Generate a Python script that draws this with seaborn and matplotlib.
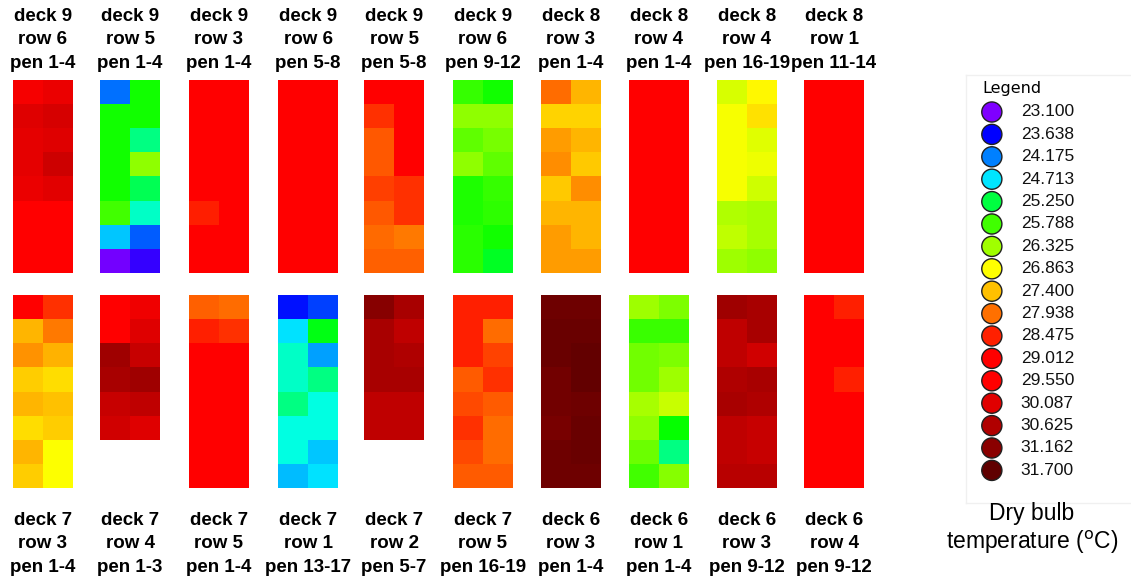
import numpy as np
import pandas as pd
import matplotlib
matplotlib.use('Agg')
import matplotlib.pyplot as plt
import matplotlib.colors as mcolors
import seaborn as sns

legend_vals = [23.100, 23.638, 24.175, 24.713, 25.250, 25.788, 26.325, 26.863, 27.400,
               27.938, 28.475, 29.012, 29.550, 30.087, 30.625, 31.162, 31.700]
legend_cols = ['#7F00FF', '#0000FF', '#0080FF', '#00E5FF', '#00FF40', '#40FF00', '#A0FF00',
               '#FFFF00', '#FFC000', '#FF7000', '#FF2000', '#FF0000', '#FF0000', '#E00000',
               '#B00000', '#8A0000', '#600000']

# --- panel values, dry bulb temperature (deg C), 2 columns x rows top->bottom ---
top_titles = ['deck 9\nrow 6\npen 1-4', 'deck 9\nrow 5\npen 1-4', 'deck 9\nrow 3\npen 1-4',
              'deck 9\nrow 6\npen 5-8', 'deck 9\nrow 5\npen 5-8', 'deck 9\nrow 6\npen 9-12',
              'deck 8\nrow 3\npen 1-4', 'deck 8\nrow 4\npen 1-4', 'deck 8\nrow 4\npen 16-19',
              'deck 8\nrow 1\npen 11-14']
bottom_titles = ['deck 7\nrow 3\npen 1-4', 'deck 7\nrow 4\npen 1-3', 'deck 7\nrow 5\npen 1-4',
                 'deck 7\nrow 1\npen 13-17', 'deck 7\nrow 2\npen 5-7', 'deck 7\nrow 5\npen 16-19',
                 'deck 6\nrow 3\npen 1-4', 'deck 6\nrow 1\npen 1-4', 'deck 6\nrow 3\npen 9-12',
                 'deck 6\nrow 4\npen 9-12']

d9_r6_p1 = [[29.7, 29.9], [30.1, 30.2], [30.0, 30.1], [30.0, 30.3],
            [29.9, 30.05], [29.3, 29.3], [29.3, 29.3], [29.3, 29.3]]
d9_r5_p1 = [[24.11, 25.59], [25.59, 25.59], [25.59, 25.09], [25.59, 26.23],
            [25.59, 25.21], [25.79, 24.93], [24.56, 24.04], [23.16, 23.43]]
d9_r3_p1 = [[29.3, 29.3], [29.3, 29.3], [29.3, 29.3], [29.3, 29.3],
            [29.3, 29.3], [28.5, 29.3], [29.3, 29.3], [29.3, 29.3]]
d9_r6_p5 = [[29.3, 29.3]] * 8
d9_r5_p5 = [[29.3, 29.3], [28.37, 29.3], [28.09, 29.3], [28.09, 29.3],
            [28.26, 28.37], [28.09, 28.37], [27.98, 27.88], [28.05, 28.05]]
d9_r6_p9 = [[25.75, 25.59], [26.23, 26.23], [25.96, 26.09], [26.23, 25.96],
            [25.65, 25.75], [25.65, 25.72], [25.69, 25.59], [25.69, 25.38]]
d8_r3_p1 = [[27.97, 27.47], [27.24, 27.24], [27.64, 27.47], [27.75, 27.33],
            [27.33, 27.75], [27.47, 27.47], [27.64, 27.47], [27.64, 27.64]]
d8_r4_p1 = [[29.3, 29.3]] * 8
d8_r4_p16 = [[26.64, 26.92], [26.82, 27.12], [26.82, 26.68], [26.82, 26.77],
             [26.82, 26.59], [26.41, 26.36], [26.50, 26.36], [26.32, 26.23]]
d8_r1_p11 = [[29.3, 29.3]] * 8

d7_r3_p1 = [[29.3, 28.37], [27.47, 27.875], [27.71, 27.50], [27.29, 27.16],
            [27.47, 27.40], [27.16, 27.29], [27.47, 26.86], [27.29, 26.86]]
d7_r4_p1 = [[29.3, 29.81], [29.3, 30.09], [30.85, 30.36], [30.74, 30.85],
            [30.36, 30.45], [30.27, 30.09]]
d7_r5_p1 = [[28.04, 27.97], [28.475, 28.37], [29.3, 29.3], [29.3, 29.3],
            [29.3, 29.3], [29.3, 29.3], [29.3, 29.3], [29.3, 29.3]]
d7_r1_p13 = [[23.71, 23.91], [24.71, 25.45], [24.93, 24.35], [24.93, 25.09],
             [25.09, 24.85], [24.85, 24.85], [24.85, 24.56], [24.51, 24.71]]
d7_r2_p5 = [[31.19, 30.74], [30.74, 30.45], [30.74, 30.625], [30.74, 30.74],
            [30.45, 30.45], [30.45, 30.45]]
d7_r5_p16 = [[28.475, 28.475], [28.475, 27.97], [28.475, 28.25], [28.08, 28.37],
             [28.2, 28.08], [28.37, 27.97], [28.2, 27.97], [28.08, 28.08]]
d6_r3_p1 = [[31.5, 31.5], [31.57, 31.57], [31.57, 31.65], [31.45, 31.65],
            [31.45, 31.5], [31.39, 31.57], [31.5, 31.57], [31.5, 31.5]]
d6_r1_p1 = [[26.32, 26.13], [25.755, 25.755], [26.06, 26.13], [26.06, 26.32],
            [26.36, 26.55], [26.23, 25.55], [26.03, 25.09], [25.79, 26.18]]
d6_r3_p9 = [[30.85, 30.74], [30.45, 30.74], [30.45, 30.27], [30.625, 30.74],
            [30.74, 30.625], [30.45, 30.36], [30.45, 30.36], [30.54, 30.54]]
d6_r4_p9 = [[29.3, 28.475], [29.3, 29.3], [29.3, 29.3], [29.3, 28.475],
            [29.3, 29.3], [29.3, 29.3], [29.3, 29.3], [29.3, 29.3]]

top_data = [d9_r6_p1, d9_r5_p1, d9_r3_p1, d9_r6_p5, d9_r5_p5,
            d9_r6_p9, d8_r3_p1, d8_r4_p1, d8_r4_p16, d8_r1_p11]
bottom_data = [d7_r3_p1, d7_r4_p1, d7_r5_p1, d7_r1_p13, d7_r2_p5,
               d7_r5_p16, d6_r3_p1, d6_r1_p1, d6_r3_p9, d6_r4_p9]

# --- colour map: interpolate the legend colours in HSV over the value scale ---
hsv = mcolors.rgb_to_hsv(np.array([mcolors.to_rgb(c) for c in legend_cols]))
grid = np.linspace(legend_vals[0], legend_vals[-1], 512)
hsv_grid = np.column_stack([np.interp(grid, legend_vals, hsv[:, k]) for k in range(3)])
cmap = mcolors.ListedColormap(mcolors.hsv_to_rgb(hsv_grid))
vmin, vmax = legend_vals[0], legend_vals[-1]

sns.set_theme(style='white')
plt.rcParams['font.family'] = ['Liberation Sans', 'DejaVu Sans']
plt.rcParams['text.color'] = 'black'

W, H = 1131, 577
fig = plt.figure(figsize=(W / 100, H / 100), dpi=100)

panel_x = [13, 100, 189, 278, 364, 453, 541, 629, 717, 804]
panel_w = 60


def to_df(vals):
    arr = np.full((8, 2), np.nan)
    arr[:len(vals)] = np.array(vals)
    return pd.DataFrame(arr)


def draw_panel(vals, x, y, title, label_y):
    ax = fig.add_axes([x / W, 1 - (y + 193) / H, panel_w / W, 193 / H])
    sns.heatmap(to_df(vals), ax=ax, cmap=cmap, vmin=vmin, vmax=vmax, cbar=False,
                xticklabels=False, yticklabels=False, linewidths=0)
    ax.set_xlabel('')
    ax.set_ylabel('')
    fig.text((x + panel_w / 2) / W, 1 - label_y / H, title, ha='center', va='center',
             fontsize=13.5, fontweight='bold', linespacing=1.5, color='black')


for vals, x, title in zip(top_data, panel_x, top_titles):
    draw_panel(vals, x, 80, title, 40)
for vals, x, title in zip(bottom_data, panel_x, bottom_titles):
    draw_panel(vals, x, 295, title, 544)

# --- legend ---
lax = fig.add_axes([966 / W, 1 - 503 / H, (W - 967) / W, 428 / H])
lax.set_xlim(966, W)
lax.set_ylim(503, 75)
lax.set_xticks([])
lax.set_yticks([])
for s in lax.spines.values():
    s.set_color('#F0F0F0')
    s.set_linewidth(1)
lax.spines['right'].set_visible(False)

lax.text(982, 89, 'Legend', ha='left', va='center', fontsize=11.5, family='DejaVu Sans')
ys = 112 + 22.4 * np.arange(len(legend_vals))
lax.scatter(np.full(len(ys), 992), ys, s=210, c=legend_cols, edgecolors='#202020',
            linewidths=1.0, zorder=3, clip_on=False)
for yy, v in zip(ys, legend_vals):
    lax.text(1021, yy, f'{v:.3f}', ha='left', va='center', fontsize=12.5, color='#111111')

fig.text(1032 / W, 1 - 529 / H, 'Dry bulb\ntemperature ($^{\\mathrm{o}}$C)', ha='center',
         va='center', fontsize=16.5, linespacing=1.15)

fig.savefig('out.png', dpi=100)
